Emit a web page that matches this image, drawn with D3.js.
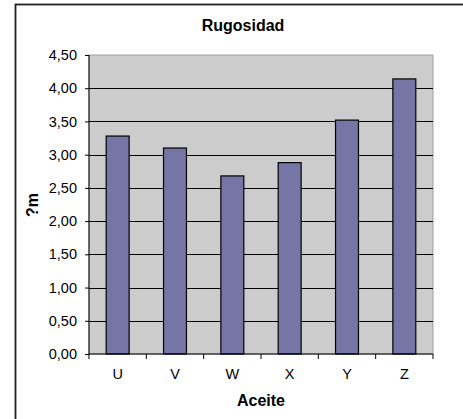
<!DOCTYPE html>
<html>
<head>
<meta charset="utf-8">
<script src="https://cdn.jsdelivr.net/npm/d3@7"></script>
<style>
	body { margin: 0; background: #fff; }
	text { font-family: "Liberation Sans", Arial, sans-serif; fill: #000; }
</style>
</head>
<body>
<div id="chart"></div>
<script>
// chart data
const categories = ["U", "V", "W", "X", "Y", "Z"];
const values = [3.28, 3.10, 2.68, 2.88, 3.52, 4.14];
const yTicks = [0, 0.5, 1, 1.5, 2, 2.5, 3, 3.5, 4, 4.5];
const title = "Rugosidad";
const xTitle = "Aceite";
const yTitle = "?m";

const W = 463, H = 419;
const margin = { top: 55, right: 30, bottom: 65, left: 89 };
const width = 433 - margin.left;
const height = 354 - margin.top;

const svg = d3.select("#chart").append("svg")
	.attr("width", W)
	.attr("height", H);

// outer chart border (only top and left are in frame)
svg.append("rect")
	.attr("x", 15.5).attr("y", 4.5)
	.attr("width", 470).attr("height", 430)
	.attr("fill", "none")
	.attr("stroke", "#222")
	.attr("stroke-width", 1.8);

const g = svg.append("g")
	.attr("transform", "translate(" + margin.left + "," + margin.top + ")");

const x = d3.scaleBand().domain(categories).range([0, width]).paddingInner(0.6).paddingOuter(0.3);
const xb = d3.scaleBand().domain(categories).range([0, width]);
const y = d3.scaleLinear().domain([0, 4.5]).range([height, 0]);

// plot area
g.append("rect")
	.attr("width", width)
	.attr("height", height)
	.attr("fill", "#cccccc")
	.attr("stroke", "#a0a0a0")
	.attr("stroke-width", 1);

// gridlines
g.selectAll(".grid")
	.data(yTicks.filter(d => d > 0 && d < 4.5))
	.enter().append("line")
	.attr("x1", 0).attr("x2", width)
	.attr("y1", d => Math.round(y(d)) + 0.5)
	.attr("y2", d => Math.round(y(d)) + 0.5)
	.attr("stroke", "#000")
	.attr("stroke-width", 1.2);

// bars
g.selectAll(".bar")
	.data(values)
	.enter().append("rect")
	.attr("x", (d, i) => x(categories[i]))
	.attr("y", d => y(d))
	.attr("width", x.bandwidth())
	.attr("height", d => height - y(d))
	.attr("fill", "#7676a6")
	.attr("stroke", "#000")
	.attr("stroke-width", 1.2);

// y axis
const yAxis = g.append("g")
	.call(d3.axisLeft(y).tickValues(yTicks).tickSize(4).tickPadding(8)
		.tickFormat(d => d3.format(".2f")(d).replace(".", ",")));
yAxis.select(".domain").attr("stroke", "#000").attr("d", "M0,0V" + height);
yAxis.selectAll("text").style("font-size", "14.5px");

// x axis
const xAxis = g.append("g")
	.attr("transform", "translate(0," + height + ")")
	.call(d3.axisBottom(xb).tickSize(0).tickPadding(15));
xAxis.select(".domain").attr("d", "M0,0H" + width);
xAxis.selectAll("text").style("font-size", "14.5px");
xAxis.selectAll(".sep")
	.data(categories.concat(["end"]))
	.enter().append("line")
	.attr("x1", (d, i) => i * xb.step())
	.attr("x2", (d, i) => i * xb.step())
	.attr("y1", 0).attr("y2", 5)
	.attr("stroke", "#000");

// titles
svg.append("text")
	.attr("x", 243).attr("y", 31)
	.attr("text-anchor", "middle")
	.style("font-size", "16px").style("font-weight", "bold")
	.text(title);

svg.append("text")
	.attr("x", margin.left + width / 2).attr("y", 406)
	.attr("text-anchor", "middle")
	.style("font-size", "16px").style("font-weight", "bold")
	.text(xTitle);

svg.append("text")
	.attr("transform", "translate(38,205) rotate(-90)")
	.attr("text-anchor", "middle")
	.style("font-size", "16px").style("font-weight", "bold")
	.text(yTitle);
</script>
</body>
</html>
